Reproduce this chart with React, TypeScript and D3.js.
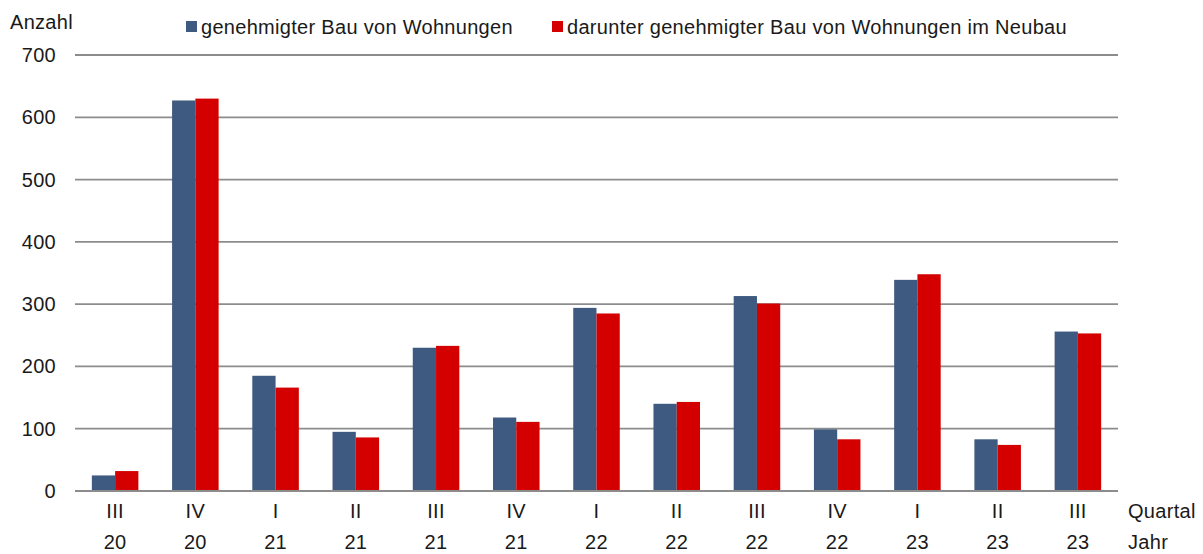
import React from "react";
import * as d3 from "d3";

const quartale = ["III", "IV", "I", "II", "III", "IV", "I", "II", "III", "IV", "I", "II", "III"];
const jahre = ["20", "20", "21", "21", "21", "21", "22", "22", "22", "22", "23", "23", "23"];
const gesamt = [25, 627, 185, 95, 230, 118, 294, 140, 313, 99, 339, 83, 256];
const neubau = [32, 630, 166, 86, 233, 111, 285, 143, 301, 83, 348, 74, 253];
const yTicks = [0, 100, 200, 300, 400, 500, 600, 700];
const seriesNames = ["genehmigter Bau von Wohnungen", "darunter genehmigter Bau von Wohnungen im Neubau"];
const colors = ["#3F5A80", "#D40000"];

const W = 1203, H = 554;
const left = 75, right = 1118, top = 55, bottom = 491;
const font = "'Liberation Sans', Arial, sans-serif";
const fs = 20;
const ls = 0.3;
const tc = "#1a1a1a";

export default function App() {
  const idx = quartale.map((_, i) => String(i));
  const x = d3.scaleBand<string>().domain(idx).range([left, right]).paddingInner(0.42).paddingOuter(0.21);
  const inner = d3.scaleBand<string>().domain(["0", "1"]).range([0, x.bandwidth()]);
  const y = d3.scaleLinear().domain([0, 700]).range([bottom, top]);
  const series = [gesamt, neubau];
  const txt = { fontFamily: font, fontSize: fs, fill: tc, letterSpacing: ls } as const;
  return (
    <svg width={W} height={H} style={{ position: "absolute", left: 0, top: 0, background: "#fff" }}>
      {yTicks.map((t) => (
        <g key={t}>
          <line x1={left} x2={right} y1={y(t)} y2={y(t)} stroke="#8c8c8c" strokeWidth={1.8} />
          <text x={56} y={y(t)} dy="0.35em" textAnchor="end" {...txt}>{t}</text>
        </g>
      ))}
      {series.map((s, si) =>
        s.map((v, i) => (
          <rect key={si + "-" + i} x={(x(String(i)) as number) + (inner(String(si)) as number)} y={y(v)}
            width={inner.bandwidth()} height={y(0) - y(v)} fill={colors[si]} />
        ))
      )}
      <line x1={left} x2={right} y1={y(0)} y2={y(0)} stroke="#8c8c8c" strokeWidth={1.8} />
      {quartale.map((q, i) => (
        <text key={"q" + i} x={(x(String(i)) as number) + x.bandwidth() / 2} y={511} dy="0.35em" textAnchor="middle" {...txt}>{q}</text>
      ))}
      {jahre.map((j, i) => (
        <text key={"j" + i} x={(x(String(i)) as number) + x.bandwidth() / 2} y={542} dy="0.35em" textAnchor="middle" {...txt}>{j}</text>
      ))}
      <text x={1128} y={511} dy="0.35em" {...txt}>Quartal</text>
      <text x={1128} y={542} dy="0.35em" {...txt}>Jahr</text>
      <text x={10} y={22} dy="0.35em" {...txt}>Anzahl</text>
      <rect x={186} y={21} width={11} height={11} fill={colors[0]} />
      <text x={201} y={27} dy="0.35em" {...txt}>{seriesNames[0]}</text>
      <rect x={552} y={21} width={11} height={11} fill={colors[1]} />
      <text x={567} y={27} dy="0.35em" {...txt}>{seriesNames[1]}</text>
    </svg>
  );
}
